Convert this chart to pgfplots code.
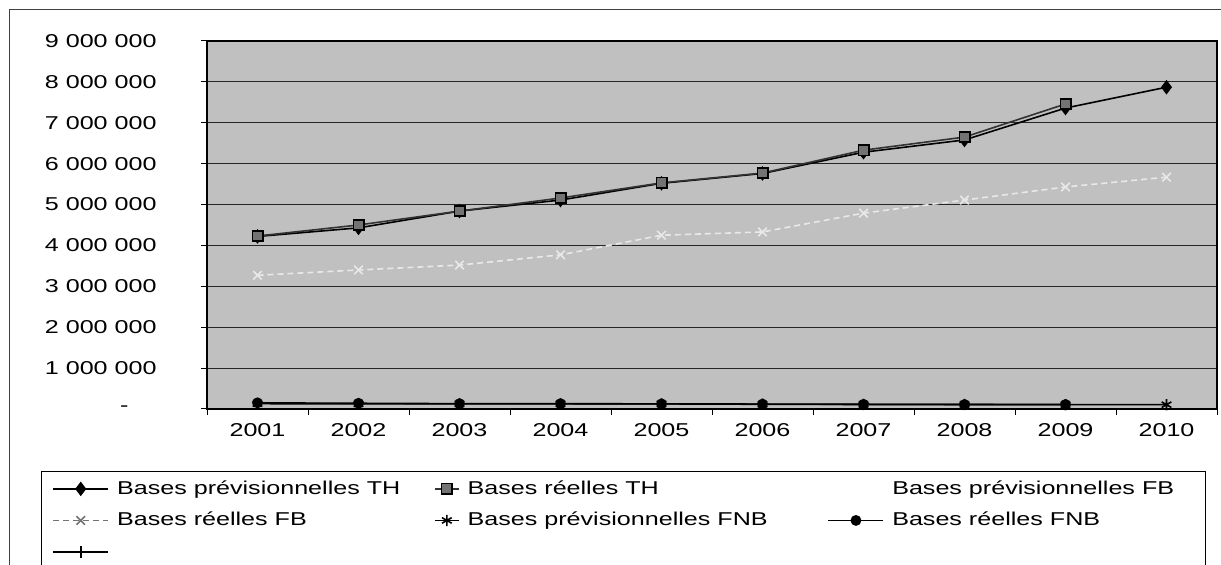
\documentclass[border=0pt]{standalone}
\usepackage{fontspec}
\setmainfont{Liberation Sans}[FakeStretch=1.35]
\usepackage{pgfplots}
\pgfplotsset{compat=1.18}
\definecolor{bg}{RGB}{192,192,192}
\definecolor{fbline}{RGB}{232,232,232}
\pgfplotsset{
  leglong/.style={legend image code/.code={\draw[mark repeat=2,mark phase=2,##1] plot coordinates {(0pt,0pt) (13.75pt,0pt) (27.5pt,0pt)};}},
  legshort/.style={legend image code/.code={\draw[mark repeat=2,mark phase=2,##1] plot coordinates {(0pt,0pt) (6pt,0pt) (12pt,0pt)};}},
  legempty/.style={legend image code/.code={\path[draw=none,fill=none] (0pt,0pt) -- (27.5pt,0pt);}},
}
\newcommand{\lf}{\fontsize{9.3}{11}\selectfont}
\begin{document}
\begin{tikzpicture}
\draw[black!75, line width=0.5pt] (4.5pt,0pt) -- (4.5pt,277.5pt) -- (610.5pt,277.5pt);
\begin{axis}[
  at={(103.5pt,78pt)}, anchor=south west,
  scale only axis, width=505pt, height=184pt,
  xmin=0.5, xmax=10.5, ymin=0, ymax=9000000,
  scaled y ticks=false,
  xtick={0.5,1.5,...,10.5}, xticklabels={},
  extra x ticks={1,2,3,4,5,6,7,8,9,10},
  extra x tick labels={2001,2002,2003,2004,2005,2006,2007,2008,2009,2010},
  extra x tick style={major tick length=0pt},
  ytick={0,1000000,2000000,3000000,4000000,5000000,6000000,7000000,8000000,9000000},
  yticklabels={-\hspace*{14pt},1 000 000,2 000 000,3 000 000,4 000 000,5 000 000,6 000 000,7 000 000,8 000 000,9 000 000},
  ymajorgrids, grid style={black!85, line width=0.45pt},
  axis background/.style={fill=bg},
  axis line style={black, line width=0.6pt},
  tick align=outside, tick pos=left,
  major tick length=3pt,
  tick style={black, line width=0.5pt},
  tick label style={font=\lf},
  yticklabel style={anchor=east, inner sep=0pt, xshift=-22pt},
  xticklabel style={inner sep=0pt, yshift=-7pt},
  legend columns=3,
  legend cell align=left,
  legend style={at={(-0.16436,-0.16848)}, anchor=north west, draw=black, line width=0.45pt, fill=white,
    inner xsep=5.5pt, inner ysep=0.8pt, font=\lf,
    nodes={inner sep=0pt, text height=10.5pt, text depth=5.3pt},
    /tikz/every odd column/.style={column sep=4pt},
    /tikz/every even column/.style={column sep=0pt},
    row sep=0pt},
]
% Bases previsionnelles TH
\addplot[leglong, black, line width=0.8pt, mark=diamond*, mark size=3pt, mark options={solid, fill=black}]
 coordinates {(1,4220000) (2,4430000) (3,4840000) (4,5110000) (5,5520000) (6,5760000) (7,6280000) (8,6580000) (9,7360000) (10,7870000)};
\addlegendentry{\makebox[158.5pt][l]{Bases prévisionnelles TH}}
% Bases reelles TH
\addplot[legshort, black!80, line width=0.8pt, mark=square*, mark size=2.6pt, mark options={solid, fill=black!55, draw=black}]
 coordinates {(1,4230000) (2,4500000) (3,4840000) (4,5160000) (5,5530000) (6,5770000) (7,6330000) (8,6650000) (9,7460000)};
\addlegendentry{\makebox[180pt][l]{Bases réelles TH}}
% Bases previsionnelles FB (not visible)
\addlegendimage{legempty}
\addlegendentry{\makebox[151pt][l]{Bases prévisionnelles FB}}
% Bases reelles FB
\addplot[leglong, fbline, densely dashed, line width=0.8pt, mark=x, mark size=3pt, mark options={solid},
  legend image post style={black!55}]
 coordinates {(1,3270000) (2,3400000) (3,3520000) (4,3770000) (5,4250000) (6,4330000) (7,4790000) (8,5110000) (9,5430000) (10,5670000)};
\addlegendentry{Bases réelles FB}
% Bases previsionnelles FNB
\addplot[legshort, black, line width=0.8pt, mark=asterisk, mark size=2.8pt, mark options={solid}]
 coordinates {(1,130000) (2,125000) (3,125000) (4,125000) (5,125000) (6,115000) (7,110000) (8,110000) (9,105000) (10,105000)};
\addlegendentry{Bases prévisionnelles FNB}
% Bases reelles FNB
\addplot[leglong, black, line width=0.8pt, mark=*, mark size=2.3pt, mark options={solid, fill=black}]
 coordinates {(1,150000) (2,140000) (3,130000) (4,130000) (5,125000) (6,120000) (7,115000) (8,110000) (9,110000)};
\addlegendentry{Bases réelles FNB}
% unnamed series
\addlegendimage{leglong, black, line width=0.8pt, mark=|, mark size=3pt}
\addlegendentry{}
\end{axis}
\pgfresetboundingbox
\path[use as bounding box] (0pt,0pt) rectangle (610.5pt,282.5pt);
\end{tikzpicture}
\end{document}
